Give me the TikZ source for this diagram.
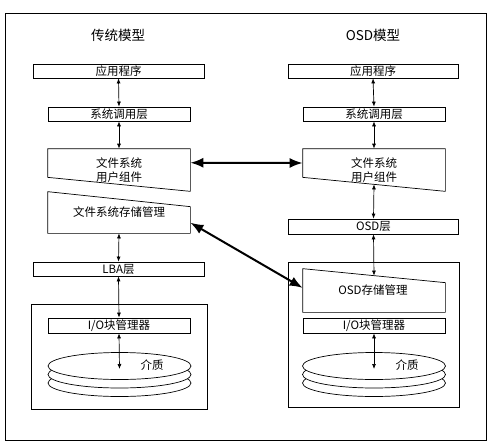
\documentclass[tikz,border=0pt]{standalone}
\usepackage{fontspec}
\setmainfont{Noto Sans CJK SC}
\usetikzlibrary{arrows.meta,shapes.geometric,calc}
\begin{document}
\begin{tikzpicture}[x=1pt,y=-1pt,line width=0.7pt,
  boxtxt/.style={font=\fontsize{11.5}{14}\selectfont},
  box/.style={draw,rectangle,inner sep=0pt,minimum width=#1,minimum height=14,boxtxt},
  frame/.style={rectangle,inner sep=0pt,minimum width=142,minimum height=#1},
  titletxt/.style={font=\fontsize{13.5}{15}\selectfont},
  disk/.style={draw,fill=white,ellipse,inner sep=0pt,minimum width=143,minimum height=27},
  thin arrow/.style={{Latex[length=5pt,width=4pt]}-{Latex[length=5pt,width=4pt]},line width=0.7pt},
  thick arrow/.style={{Latex[length=13pt,width=10pt]}-{Latex[length=13pt,width=10pt]},line width=2pt}]
\useasboundingbox (0,0) rectangle (495,442);
\draw (5,13) rectangle (486,440);

% ---------- left: traditional model ----------
\node[titletxt] (tL) at (118,35) {传统模型};
\node[box=171] (appL) at (118.5,71) {应用程序};
\node[box=142] (sysL) at (119,114) {系统调用层};
\node[frame=42] (ufsL) at (119,170) {};
\draw (ufsL.north west) -- (ufsL.north east) -- (ufsL.south east) -- ($(ufsL.south west)+(0,-14)$) -- cycle;
\node[boxtxt,align=center] (ufsLt) at (ufsL.center) {文件系统\\用户组件};
\node[frame=41] (sfsL) at (119,212.5) {};
\draw (sfsL.north west) -- ($(sfsL.north east)+(0,15)$) -- (sfsL.south east) -- (sfsL.south west) -- cycle;
\node[boxtxt] (sfsLt) at (119,212) {文件系统存储管理};
\node[box=171] (lbaL) at (118.5,269) {LBA层};
\draw (31,304) rectangle (207,409);
\node[box=142,minimum height=15] (ioL) at (119,325.5) {I/O块管理器};
\node[disk] (d3L) at (119.5,383) {};
\node[disk] (d2L) at (119.5,374.5) {};
\node[disk] (diskL) at (119.5,366) {};
\node[boxtxt] (mL) at (152,365) {介质};

\draw[thin arrow] (appL.south) -- (sysL.north);
\draw[thin arrow] (sysL.south) -- (ufsL.north);
\draw[thin arrow] (sfsL.south) -- (lbaL.north);
\draw[thin arrow] (lbaL.south) -- (ioL.north);
\draw[thin arrow] (ioL.south) -- ($(diskL.center)+(0,3)$);

% ---------- right: OSD model ----------
\node[titletxt] (tR) at (373,35) {OSD模型};
\node[box=170] (appR) at (373,71) {应用程序};
\node[box=142] (sysR) at (374,114) {系统调用层};
\node[frame=42] (ufsR) at (374,170) {};
\coordinate (ufsRsw) at ($(ufsR.south west)+(0,-14)$);
\draw (ufsR.north west) -- (ufsR.north east) -- (ufsR.south east) -- (ufsRsw) -- cycle;
\node[boxtxt,align=center] (ufsRt) at (ufsR.center) {文件系统\\用户组件};
\node[box=170,minimum height=15] (osdR) at (373.5,226.5) {OSD层};
\draw (288,262) rectangle (459,407);
\node[frame=43] (osmR) at (374,290.5) {};
\coordinate (osmRne) at ($(osmR.north east)+(0,14)$);
\draw (osmR.north west) -- (osmRne) -- (osmR.south east) -- (osmR.south west) -- cycle;
\node[boxtxt] (osmRt) at (373,290) {OSD存储管理};
\node[box=142,minimum height=15] (ioR) at (374,325.5) {I/O块管理器};
\node[disk] (d3R) at (374,383) {};
\node[disk] (d2R) at (374,374.5) {};
\node[disk] (diskR) at (374,366) {};
\node[boxtxt] (mR) at (407,365) {介质};

\coordinate (ufsRb) at ($(ufsRsw)!0.5!(ufsR.south east)$);
\coordinate (osmRtop) at ($(osmR.north west)!0.5!(osmRne)$);
\draw[thin arrow] (appR.south) -- (sysR.north);
\draw[thin arrow] (sysR.south) -- (ufsR.north);
\draw[thin arrow] (ufsRb) -- (osdR.north);
\draw[thin arrow] (osdR.south) -- (osmRtop);
\draw[thin arrow] (ioR.south) -- ($(diskR.center)+(0,3)$);

% ---------- thick connectors ----------
\coordinate (hL) at ($(ufsL.north east)!0.33!(ufsL.south east)$);
\coordinate (hR) at ($(ufsR.north west)!0.5!(ufsRsw)$);
\draw[thick arrow] (hL) -- (hR);
\coordinate (gL) at ($($(sfsL.north east)+(0,15)$)!0.6!(sfsL.south east)$);
\coordinate (gR) at ($(osmR.north west)!0.44!(osmR.south west)$);
\draw[thick arrow] (gL) -- (gR);
\end{tikzpicture}
\end{document}
